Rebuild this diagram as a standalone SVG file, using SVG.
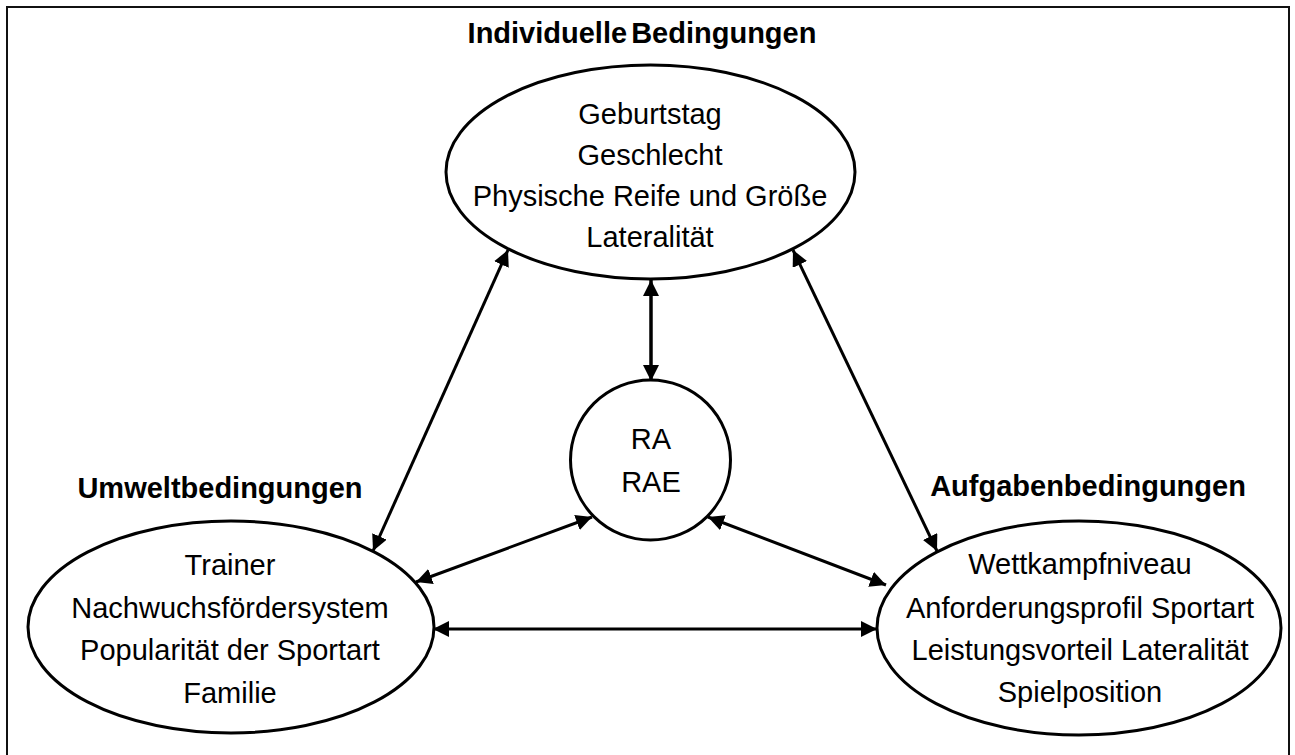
<svg xmlns="http://www.w3.org/2000/svg" width="1295" height="755" viewBox="0 0 1295 755">
  <style>
    .frame { fill: none; stroke: #111; stroke-width: 2; }
    .node { fill: #fff; stroke: #000; stroke-width: 3; }
    .item { font-family: "Liberation Sans", Arial, sans-serif; font-size: 29px; fill: #000; text-anchor: middle; }
    .head { font-family: "Liberation Sans", Arial, sans-serif; font-size: 29px; font-weight: bold; fill: #000; text-anchor: middle; }
    .link { fill: none; stroke: #000; stroke-width: 3; marker-start: url(#tip); marker-end: url(#tip); }
  </style>
  <defs>
    <marker id="tip" markerUnits="userSpaceOnUse" markerWidth="17" markerHeight="16" refX="16" refY="8" orient="auto-start-reverse" viewBox="0 0 17 16">
      <path d="M0,0 L16,8 L0,16 Z" fill="#000"/>
    </marker>
  </defs>

  <rect class="frame" x="7" y="7" width="1282" height="760"/>

  <!-- section headings -->
  <text class="head" x="642" y="43" word-spacing="-4">Individuelle Bedingungen</text>
  <text class="head" x="220" y="498">Umweltbedingungen</text>
  <text class="head" x="1088" y="496">Aufgabenbedingungen</text>

  <!-- connectors -->
  <g id="connectors">
    <line class="link" x1="373" y1="551" x2="508" y2="250"/>
    <line class="link" x1="937" y1="551" x2="793" y2="250"/>
    <line class="link" x1="651" y1="280" x2="651" y2="381" style="stroke-width:3.5"/>
    <line class="link" x1="416" y1="582" x2="592" y2="517"/>
    <line class="link" x1="886" y1="585" x2="708" y2="517"/>
    <line class="link" x1="433" y1="629" x2="877" y2="629"/>
  </g>

  <g id="individuell">
    <ellipse class="node" cx="650.5" cy="172" rx="204.5" ry="107"/>
    <text class="item" x="650" y="124">Geburtstag</text>
    <text class="item" x="650" y="165">Geschlecht</text>
    <text class="item" x="650" y="206">Physische Reife und Größe</text>
    <text class="item" x="650" y="247">Lateralität</text>
  </g>

  <g id="ra">
    <circle class="node" cx="650.5" cy="460" r="80"/>
    <text class="item" x="651" y="449">RA</text>
    <text class="item" x="651" y="492">RAE</text>
  </g>

  <g id="umwelt">
    <ellipse class="node" cx="231" cy="627" rx="203" ry="106"/>
    <text class="item" x="230" y="575">Trainer</text>
    <text class="item" x="230" y="618">Nachwuchsfördersystem</text>
    <text class="item" x="230" y="660">Popularität der Sportart</text>
    <text class="item" x="230" y="703">Familie</text>
  </g>

  <g id="aufgabe">
    <ellipse class="node" cx="1079" cy="628" rx="202" ry="107"/>
    <text class="item" x="1080" y="574">Wettkampfniveau</text>
    <text class="item" x="1080" y="618">Anforderungsprofil Sportart</text>
    <text class="item" x="1080" y="660">Leistungsvorteil Lateralität</text>
    <text class="item" x="1080" y="702">Spielposition</text>
  </g>
</svg>
